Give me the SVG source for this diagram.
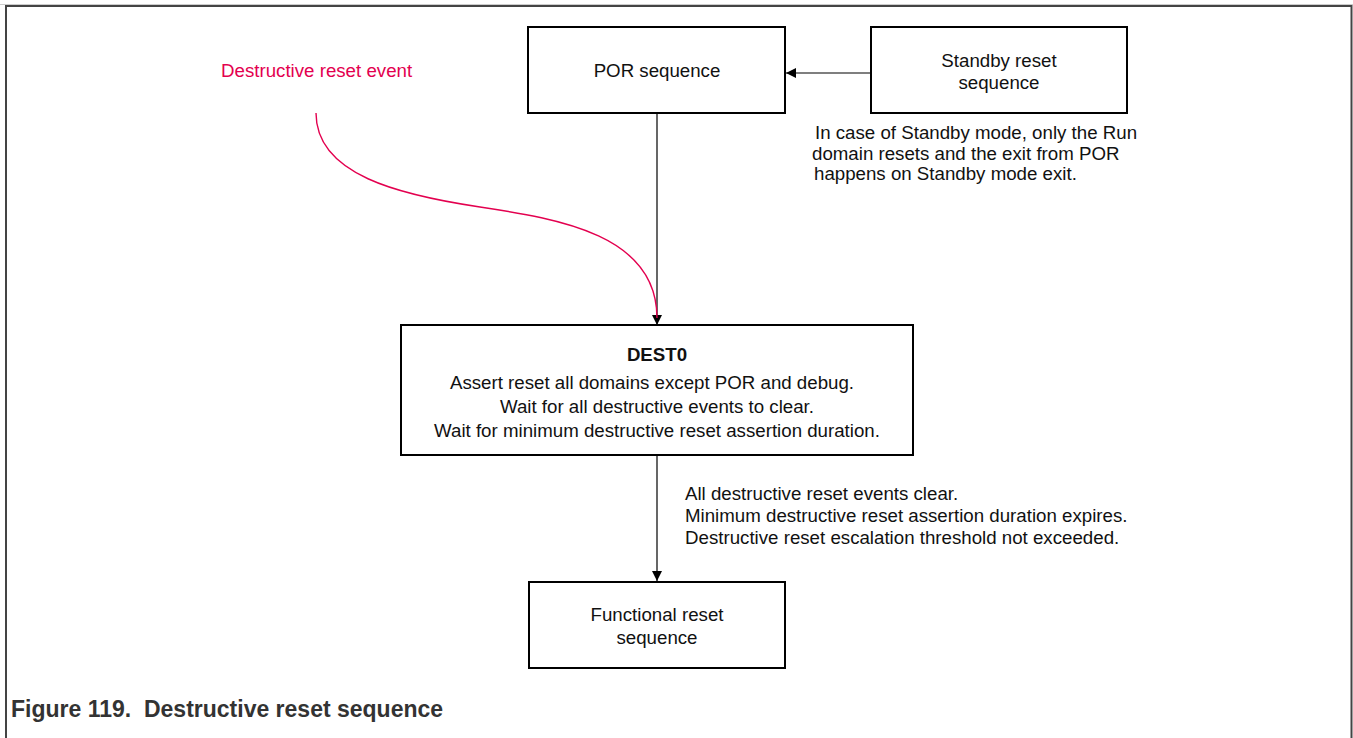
<svg xmlns="http://www.w3.org/2000/svg" width="1353" height="738" viewBox="0 0 1353 738">
  <style>
    .box { fill: #ffffff; stroke: #000000; stroke-width: 2; }
    .t { font-family: "Liberation Sans", Arial, sans-serif; font-size: 18.7px; fill: #111111; }
    .c { text-anchor: middle; }
    .b { font-weight: bold; }
    .red { fill: #e3004f; }
    .wire { fill: none; stroke: #000000; stroke-width: 1.2; }
    .wire-red { fill: none; stroke: #e3004f; stroke-width: 1.4; }
    .caption { font-family: "Liberation Sans", Arial, sans-serif; font-size: 23px; font-weight: bold; fill: #333333; }
  </style>
  <defs>
    <marker id="arrow" viewBox="0 0 10 10" refX="10" refY="5" markerWidth="10" markerHeight="10" markerUnits="userSpaceOnUse" orient="auto">
      <path d="M0,0 L10,5 L0,10 Z" fill="#000000"/>
    </marker>
  </defs>

  <!-- page background and frame -->
  <rect x="0" y="0" width="1353" height="738" fill="#ffffff"/>
  <line x1="0" y1="4.5" x2="1353" y2="4.5" stroke="#cccccc" stroke-width="1"/>
  <path d="M6,738 V6 H1351.5 V738" fill="none" stroke="#444444" stroke-width="2"/>

  <!-- connectors -->
  <g id="connectors">
    <line class="wire" x1="871" y1="73" x2="786" y2="73" marker-end="url(#arrow)"/>
    <line class="wire" x1="657" y1="113" x2="657" y2="325" marker-end="url(#arrow)"/>
    <path class="wire-red" d="M316,113 C316,175 400,195 480,207 C560,219 657,235 657,318"/>
    <line class="wire" x1="657" y1="455" x2="657" y2="581" marker-end="url(#arrow)"/>
  </g>

  <!-- event label -->
  <g id="destructive-event">
    <text class="t red" x="221" y="77">Destructive reset event</text>
  </g>

  <!-- POR sequence -->
  <g id="por">
    <rect class="box" x="528" y="27" width="257" height="86"/>
    <text class="t c" x="657" y="77">POR sequence</text>
  </g>

  <!-- Standby reset sequence -->
  <g id="standby">
    <rect class="box" x="871" y="27" width="256" height="86"/>
    <text class="t c" x="999" y="67">Standby reset</text>
    <text class="t c" x="999" y="89">sequence</text>
  </g>

  <!-- standby note -->
  <g id="standby-note">
    <text class="t" x="815" y="139">In case of Standby mode, only the Run</text>
    <text class="t" x="812" y="160">domain resets and the exit from POR</text>
    <text class="t" x="814" y="180">happens on Standby mode exit.</text>
  </g>

  <!-- DEST0 state -->
  <g id="dest0">
    <rect class="box" x="401" y="325" width="512" height="130"/>
    <text class="t c b" x="657" y="361">DEST0</text>
    <text class="t c" x="652" y="389">Assert reset all domains except POR and debug.</text>
    <text class="t c" x="657" y="413">Wait for all destructive events to clear.</text>
    <text class="t c" x="657" y="437">Wait for minimum destructive reset assertion duration.</text>
  </g>

  <!-- transition conditions -->
  <g id="exit-conditions">
    <text class="t" x="685" y="500">All destructive reset events clear.</text>
    <text class="t" x="685" y="522">Minimum destructive reset assertion duration expires.</text>
    <text class="t" x="685" y="544">Destructive reset escalation threshold not exceeded.</text>
  </g>

  <!-- Functional reset sequence -->
  <g id="functional">
    <rect class="box" x="529" y="582" width="256" height="86"/>
    <text class="t c" x="657" y="621">Functional reset</text>
    <text class="t c" x="657" y="644">sequence</text>
  </g>

  <!-- caption -->
  <text class="caption" x="11" y="717" xml:space="preserve">Figure 119.  Destructive reset sequence</text>
</svg>
